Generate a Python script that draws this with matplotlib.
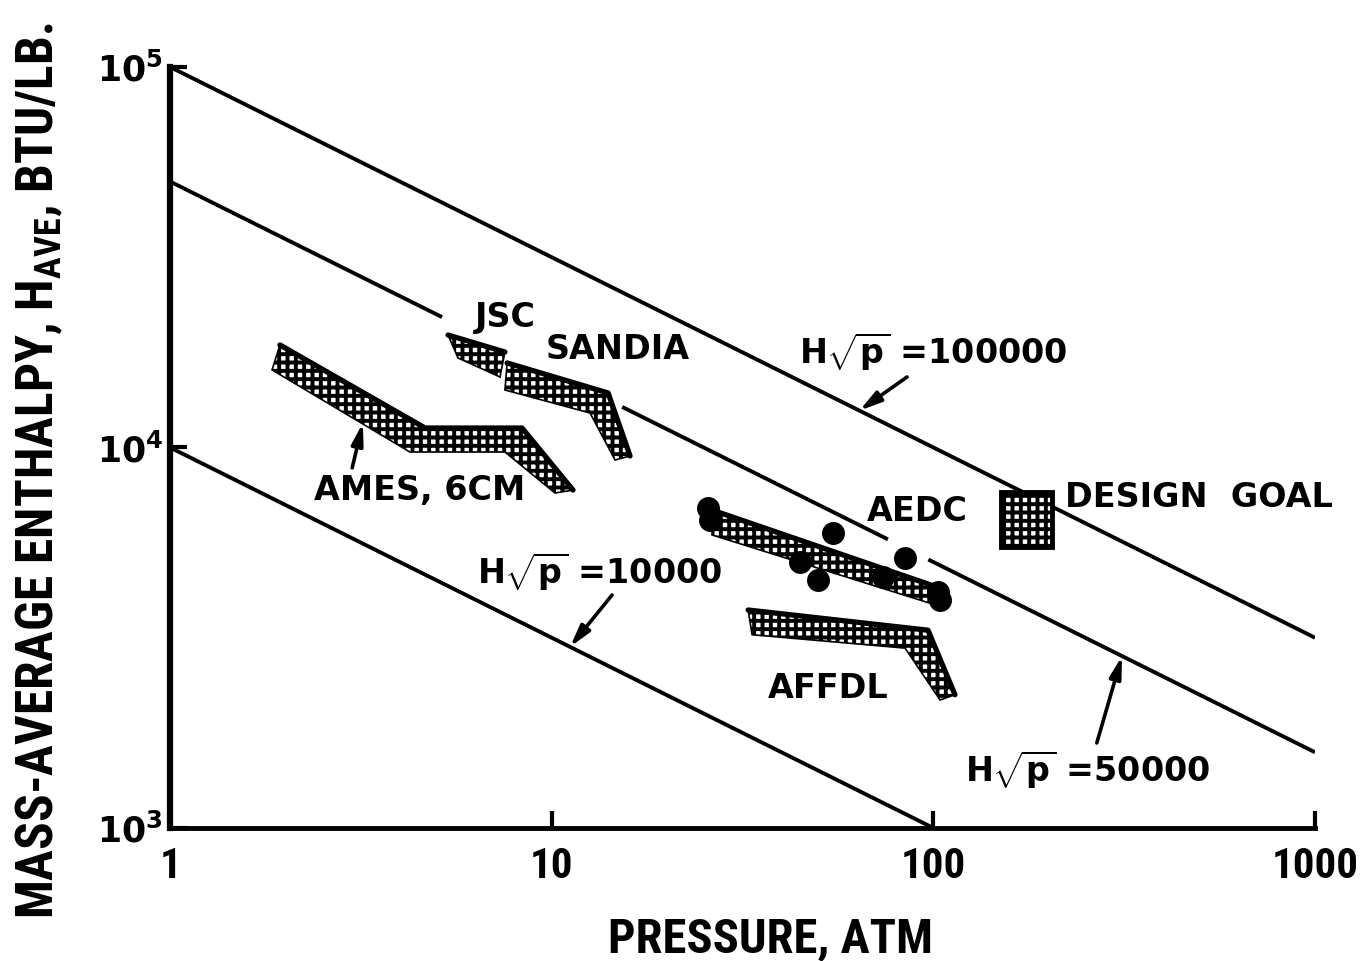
import os
import matplotlib
matplotlib.use('Agg')
import matplotlib.pyplot as plt
import numpy as np
from matplotlib import font_manager
from matplotlib.font_manager import FontProperties
from matplotlib.patches import Polygon
from matplotlib.ticker import NullLocator

WIDE = 'DejaVu Sans'

plt.rcParams['mathtext.fontset'] = 'custom'
plt.rcParams['mathtext.bf'] = WIDE + ':bold'
plt.rcParams['mathtext.default'] = 'regular'
plt.rcParams['hatch.linewidth'] = 2.8


def axis_font():
    # narrow bold lettering for the axes if a condensed face is around
    for family, stretch in [('Liberation Sans Narrow', 'normal'),
                            ('Noto Sans', 'condensed'),
                            ('Noto Sans Condensed', 'normal'),
                            ('Roboto Condensed', 'normal')]:
        prop = FontProperties(family=family, stretch=stretch, weight='bold')
        path = font_manager.findfont(prop)
        name = os.path.basename(path)
        if 'Condensed' in name or 'Narrow' in name:
            return FontProperties(fname=path), (31, 35, 37)
    return FontProperties(family=WIDE, weight='bold'), (22, 27.5, 27.5)


# H*sqrt(p) reference lines and the pressure spans where each is drawn
HSQRTP = [100000, 50000, 10000]
SPANS = [[(1, 1000)],
         [(1, 5.16), (15.3, 76), (97, 1000)],
         [(1, 100)]]

# facility envelopes: upper boundary, then lower boundary (pressure atm, enthalpy BTU/lb)
AMES_TOP_P = [1.94, 4.66, 8.36, 11.37]
AMES_TOP_H = [18600, 11250, 11250, 7730]
AMES_BOT_P = [10.2, 7.54, 4.25, 1.85]
AMES_BOT_H = [7590, 9730, 9730, 15990]

JSC_TOP_P = [5.35, 7.54]
JSC_TOP_H = [19750, 17820]
JSC_BOT_P = [7.32, 5.68]
JSC_BOT_H = [15320, 17190]

SANDIA_TOP_P = [7.64, 14.05, 16.04]
SANDIA_TOP_H = [16680, 13910, 9500]
SANDIA_BOT_P = [14.65, 12.6, 7.54]
SANDIA_BOT_H = [9270, 12320, 14160]

AEDC_TOP_P = [26.3, 104.1]
AEDC_TOP_H = [6850, 4270]
AEDC_BOT_P = [101.0, 26.3]
AEDC_BOT_H = [3860, 5890]

AFFDL_TOP_P = [32.7, 96.8, 113.9]
AFFDL_TOP_H = [3740, 3310, 2240]
AFFDL_BOT_P = [104.1, 84.3, 33.5]
AFFDL_BOT_H = [2170, 2970, 3220]

# AEDC test points
AEDC_P = [25.7, 26.0, 54.6, 44.7, 49.9, 73.8, 84.3, 102.8, 104.1]
AEDC_H = [6930, 6450, 5960, 5000, 4490, 4570, 5120, 4170, 3970]

# design goal box
GOAL_P = [150, 205, 205, 150]
GOAL_H = [7640, 7640, 5480, 5480]

fig = plt.figure(figsize=(13.66, 9.61), dpi=100)
ax = fig.add_axes([0.1245, 0.1384, 0.8382, 0.7919])
ax.set_xscale('log')
ax.set_yscale('log')
ax.set_xlim(1, 1000)
ax.set_ylim(1e3, 1e5)

for c, spans in zip(HSQRTP, SPANS):
    for lo, hi in spans:
        p = np.array([lo, hi], dtype=float)
        ax.plot(p, c / np.sqrt(p), color='k', lw=2.8, solid_capstyle='butt')

bands = [(AMES_TOP_P, AMES_TOP_H, AMES_BOT_P, AMES_BOT_H),
         (JSC_TOP_P, JSC_TOP_H, JSC_BOT_P, JSC_BOT_H),
         (SANDIA_TOP_P, SANDIA_TOP_H, SANDIA_BOT_P, SANDIA_BOT_H),
         (AEDC_TOP_P, AEDC_TOP_H, AEDC_BOT_P, AEDC_BOT_H),
         (AFFDL_TOP_P, AFFDL_TOP_H, AFFDL_BOT_P, AFFDL_BOT_H)]
for tp, th, bp, bh in bands:
    verts = np.column_stack([tp + bp, th + bh])
    ax.add_patch(Polygon(verts, closed=True, facecolor='white', edgecolor='k',
                         hatch='++', lw=1.2, zorder=3))
    ax.plot(tp, th, color='k', lw=3.8, solid_capstyle='round', zorder=4)

ax.add_patch(Polygon(np.column_stack([GOAL_P, GOAL_H]), closed=True,
                     facecolor='white', edgecolor='k', hatch='++', lw=3.5, zorder=3))

ax.plot(AEDC_P, AEDC_H, 'o', color='k', ms=15.5, zorder=5)

# labels
txt = dict(fontsize=24, fontweight='bold', family=WIDE, ha='center', va='center')
ax.text(7.55, 21900, 'JSC', **txt)
ax.text(14.9, 18040, 'SANDIA', **txt)
ax.text(4.52, 7730, 'AMES, 6CM', **txt)
ax.text(90.6, 6770, 'AEDC', **txt)
ax.text(52.9, 2330, 'AFFDL', **txt)
ax.text(221, 7410, 'DESIGN  GOAL', **dict(txt, ha='left'))
ax.text(99.8, 17820, r'$\mathbf{H}\sqrt{\mathbf{p}}$ =100000', **txt)
ax.text(13.38, 4710, r'$\mathbf{H}\sqrt{\mathbf{p}}$ =10000', **txt)
ax.text(254, 1420, r'$\mathbf{H}\sqrt{\mathbf{p}}$ =50000', **txt)

arrow = dict(arrowstyle='-|>,head_length=1.3,head_width=0.35', color='k', lw=2.6,
             shrinkA=0, shrinkB=0)
ax.annotate('', xy=(64, 1e5 / 8), xytext=(85.3, 15320), arrowprops=arrow)
ax.annotate('', xy=(11.17, 2992), xytext=(14.39, 4096), arrowprops=arrow)
ax.annotate('', xy=(312, 2831), xytext=(268, 1673), arrowprops=arrow)
ax.annotate('', xy=(3.2, 11600), xytext=(3.0, 8840), arrowprops=arrow)

# axes
for side in ('top', 'right'):
    ax.spines[side].set_visible(False)
ax.spines['left'].set_linewidth(4.5)
ax.spines['bottom'].set_linewidth(3.5)

font, (tick_size, xlab_size, ylab_size) = axis_font()

ax.xaxis.set_minor_locator(NullLocator())
ax.yaxis.set_minor_locator(NullLocator())
ax.set_xticks([1, 10, 100, 1000], labels=['1', '10', '100', '1000'])
ax.set_yticks([1e3, 1e4, 1e5], labels=[r'$\mathbf{10^{3}}$', r'$\mathbf{10^{4}}$',
                                       r'$\mathbf{10^{5}}$'])
ax.tick_params(direction='in', length=12, width=3)
ax.tick_params(axis='x', pad=13)
ax.tick_params(axis='y', pad=5, labelsize=25)
for lab in ax.get_xticklabels():
    lab.set_fontproperties(font)
    lab.set_fontsize(tick_size)

ax.set_xlabel('PRESSURE, ATM', fontproperties=font, fontsize=xlab_size)
ax.xaxis.set_label_coords(0.524, -0.116)
ax.set_ylabel(r'MASS-AVERAGE ENTHALPY, H$_{AVE}$, BTU/LB.', fontproperties=font,
              fontsize=ylab_size)
ax.yaxis.set_label_coords(-0.092, 0.47)

fig.savefig('out.png', dpi=100)
